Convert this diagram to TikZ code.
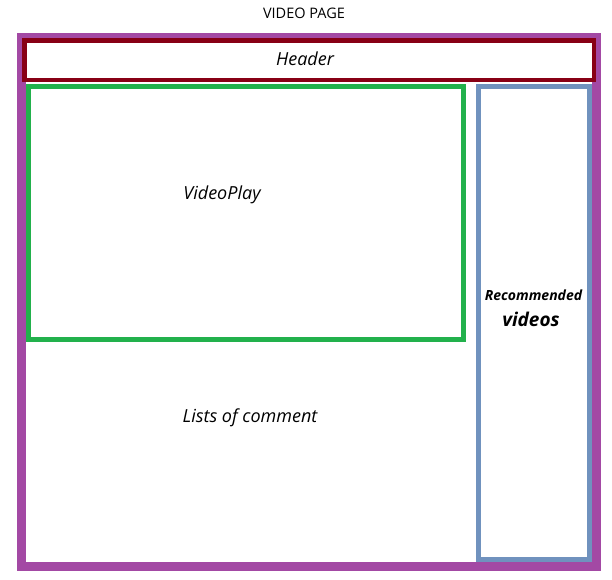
\documentclass[tikz,border=0pt]{standalone}
\usepackage{fontspec}
\setmainfont{Open Sans}
\definecolor{pagepurple}{HTML}{A349A4}
\definecolor{headred}{HTML}{880015}
\definecolor{playgreen}{HTML}{22B14C}
\definecolor{recblue}{HTML}{7092BE}
\begin{document}
\begin{tikzpicture}[x=1pt,y=-1pt,
  box/.style={draw, rectangle, inner sep=0pt, outer sep=0pt},
  lbl/.style={anchor=base, inner sep=0pt, text=black}]
\useasboundingbox (0,0) rectangle (612,579);
\node[box, draw=pagepurple, line width=9pt, minimum width=575pt, minimum height=529pt] (page) at (309,302) {};
\node[box, draw=headred, line width=4.5pt, minimum width=569.5pt, minimum height=39.5pt] (header) at (309,60) {};
\node[box, draw=playgreen, line width=5pt, minimum width=435pt, minimum height=253pt] (play) at (246,213) {};
\node[box, draw=recblue, line width=5pt, minimum width=111pt, minimum height=473pt] (rec) at (534,323) {};
\node[lbl, font=\fontsize{14.5}{17}\selectfont] (title) at (304,18.5) {VIDEO PAGE};
\node[lbl, font=\fontsize{18}{21}\selectfont\itshape] (headtxt) at (305,65.7) {Header};
\node[lbl, font=\fontsize{18}{21}\selectfont\itshape] (playtxt) at (222,199) {VideoPlay};
\node[lbl, font=\fontsize{18}{21}\selectfont\itshape] (listtxt) at (250,422.7) {Lists of comment};
\node[lbl, font=\fontsize{14}{16}\selectfont\bfseries\itshape] (rectxt1) at (533.5,300) {Recommended};
\node[lbl, font=\fontsize{19}{21}\selectfont\bfseries\itshape] (rectxt2) at (531,326) {videos};
\end{tikzpicture}
\end{document}
